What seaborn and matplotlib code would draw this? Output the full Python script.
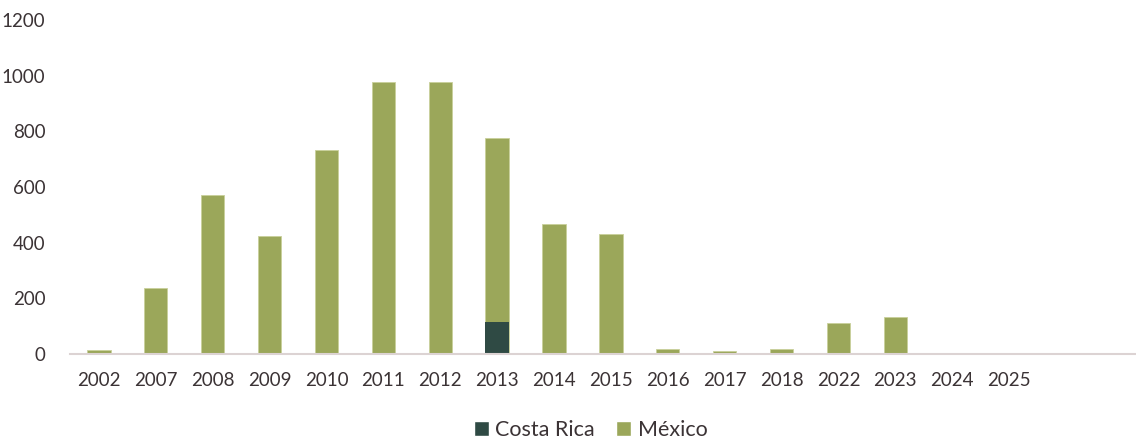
import pandas as pd
import numpy as np
import seaborn as sns
import matplotlib.pyplot as plt
from matplotlib.patches import Patch

# values
years = ["2002", "2007", "2008", "2009", "2010", "2011", "2012", "2013", "2014",
         "2015", "2016", "2017", "2018", "2022", "2023", "2024", "2025"]
costa_rica = [0, 0, 0, 0, 0, 0, 0, 114, 0, 0, 0, 0, 0, 0, 0, 0, 0]
mexico = [14, 237, 571, 424, 733, 977, 978, 662, 467, 431, 17, 10, 17, 110, 132, 0, 0]

cr_color = "#2F4A44"
mx_color = "#9BA75A"
text_color = "#3B3335"

df = pd.DataFrame({"year": years, "Costa Rica": costa_rica, "México": mexico})
df["total"] = df["Costa Rica"] + df["México"]

sns.set_style("white")
plt.rcParams["font.family"] = ["Lato", "DejaVu Sans"]

fig = plt.figure(figsize=(11.36, 4.42), dpi=100)
ax = fig.add_axes([0.062, 0.199, 0.938, 0.756])

# stacked: draw total first, then the bottom segment on top of it
sns.barplot(data=df, x="year", y="total", color=mx_color, width=0.41,
            saturation=1, ax=ax, edgecolor="#C9D09B", linewidth=0.6)
sns.barplot(data=df, x="year", y="Costa Rica", color=cr_color, width=0.41,
            saturation=1, ax=ax, linewidth=0)

ax.set_ylim(0, 1200)
ax.set_xlim(-0.5, 18.23)
ax.set_yticks(range(0, 1201, 200))
ax.set_xlabel("")
ax.set_ylabel("")

for side in ["top", "right", "left"]:
    ax.spines[side].set_visible(False)
ax.spines["bottom"].set_color("#DCD3D3")
ax.spines["bottom"].set_linewidth(1.5)

ax.tick_params(axis="y", length=0, pad=18, labelsize=13.5, labelcolor=text_color)
ax.tick_params(axis="x", length=0, pad=13, labelsize=13.5, labelcolor=text_color)

handles = [Patch(facecolor=cr_color, label="Costa Rica"),
           Patch(facecolor=mx_color, label="México")]
fig.legend(handles=handles, loc="lower center", bbox_to_anchor=(0.52, -0.04),
           ncol=2, frameon=False, fontsize=15.5, handlelength=0.7,
           handleheight=0.7, handletextpad=0.3, columnspacing=1.0,
           labelcolor=text_color)

fig.savefig("out.png", dpi=100)
